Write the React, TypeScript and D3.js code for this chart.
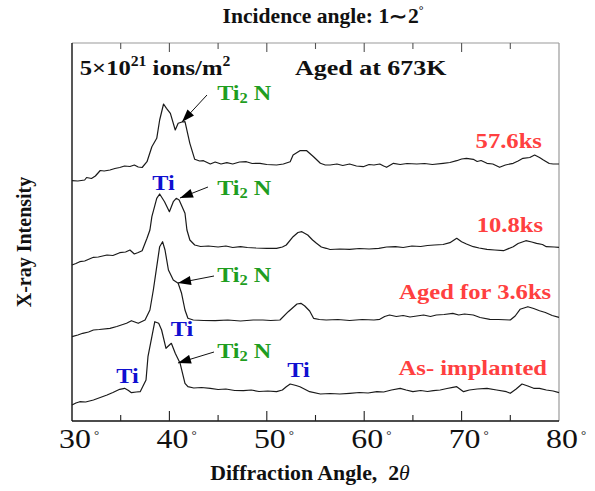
import React from "react";
import * as d3 from "d3";

const W = 595;
const H = 491;
const PLOT = { left: 72, right: 559, top: 43, bottom: 421 };

const xDomain: [number, number] = [30, 80];
const yDomain: [number, number] = [0, 378];
const xMajorTicks = [30, 40, 50, 60, 70, 80];
const innerTicks = [35, 40, 45, 50, 55, 60, 65, 70, 75];

// 57.6 ks
const angle576 = [30.0, 30.6, 31.3, 31.5, 32.0, 32.4, 32.9, 33.3, 33.9, 34.4, 34.9, 35.4, 35.95, 36.4, 36.8, 37.2, 37.7, 38.2, 38.7, 39.0, 39.4, 39.7, 40.1, 40.6, 40.9, 41.3, 41.6, 42.1, 42.6, 43.1, 43.5, 44.2, 44.7, 45.3, 45.9, 46.5, 47.2, 47.9, 48.5, 49.3, 50.0, 51.0, 51.7, 52.4, 52.7, 53.4, 54.1, 54.8, 55.5, 56.0, 56.5, 57.2, 57.8, 58.5, 59.2, 59.9, 60.5, 61.0, 61.6, 62.0, 62.3, 63.0, 63.7, 64.4, 65.4, 66.2, 67.0, 68.1, 68.8, 69.5, 70.0, 70.5, 71.2, 71.6, 72.0, 72.6, 73.2, 73.9, 74.5, 75.3, 75.8, 76.3, 77.0, 77.5, 78.0, 78.4, 79.0, 79.4, 80.0];
const int576 = [240.3, 240, 241, 243.5, 242.5, 245, 250.5, 250, 251, 252.5, 253.5, 255, 254.5, 256, 254, 253.5, 259.3, 274.3, 282.7, 301, 317, 312.7, 307.7, 291, 297.7, 299, 299.3, 277.7, 261.7, 260, 260.3, 257, 259, 257, 258.3, 257, 259, 259.3, 257.5, 257.7, 256.5, 256, 257, 259.3, 266, 270.3, 270.3, 264.3, 257.7, 256, 256, 257, 255.5, 257, 255, 254.3, 256.5, 256, 257, 255, 253.7, 257.7, 256.5, 257.5, 257, 257.5, 256.5, 257.7, 258.5, 260.3, 262, 262.7, 261.7, 259.5, 260.5, 257.7, 257, 253.7, 256, 257.7, 260, 262.7, 263.5, 266, 263.5, 261, 257.5, 257, 257];

// 10.8 ks
const angle108 = [30.0, 30.4, 30.8, 31.3, 32.2, 32.7, 33.6, 34.2, 34.9, 35.5, 35.95, 36.4, 36.8, 37.2, 37.7, 38.0, 38.2, 38.7, 39.0, 39.5, 40.0, 40.4, 40.7, 41.0, 41.6, 41.8, 42.1, 42.6, 43.2, 44.0, 45.0, 45.8, 46.5, 47.3, 48.0, 48.9, 50.0, 51.0, 51.6, 52.0, 52.7, 53.2, 53.6, 54.2, 54.7, 55.1, 55.6, 56.1, 56.5, 57.5, 58.5, 59.5, 60.5, 61.5, 62.3, 63.2, 64.0, 64.9, 65.8, 66.5, 67.2, 68.1, 68.8, 69.5, 70.0, 70.5, 71.2, 71.8, 72.6, 73.4, 74.3, 75.3, 75.8, 76.6, 77.2, 77.7, 78.3, 78.7, 79.5, 80.0];
const int108 = [156, 157.5, 159.3, 160, 163.7, 164, 166, 165.5, 168.3, 169, 171, 167, 168.5, 170.3, 182.7, 191, 204.3, 222.7, 227, 219.3, 209.3, 219.3, 222.7, 221, 207.7, 191, 181, 176, 174.5, 175, 174, 175, 173.5, 174.3, 173.5, 173, 172.7, 172.7, 174, 176, 184.3, 188.5, 189.3, 186, 181, 177.7, 174, 172.7, 171.5, 172, 171.7, 172.5, 172, 172.7, 174, 174.3, 173.5, 175, 174.5, 175.5, 176, 176.5, 178.3, 182.7, 179.3, 177, 174.3, 173, 171.7, 171, 170.3, 174.3, 177.5, 180.3, 179, 177.7, 176.5, 174.3, 174, 173.7];

// aged for 3.6 ks
const angle36 = [30.0, 30.6, 31.1, 31.7, 32.2, 32.8, 33.9, 34.6, 35.6, 36.1, 36.8, 37.5, 38.0, 38.35, 38.7, 39.0, 39.3, 39.55, 39.9, 40.4, 40.9, 41.25, 41.6, 41.9, 42.45, 43.5, 44.7, 46.0, 47.3, 48.6, 49.6, 50.4, 51.35, 52.2, 53.1, 53.5, 53.9, 54.4, 54.8, 55.4, 56.1, 57.3, 58.5, 59.8, 61.0, 61.6, 62.1, 62.6, 63.3, 64.0, 64.7, 65.4, 66.1, 66.8, 67.4, 68.2, 69.1, 69.7, 70.3, 71.2, 71.9, 72.9, 73.8, 75.0, 75.5, 76.0, 76.8, 77.4, 78.0, 78.6, 79.3, 80.0];
const int36 = [84.3, 86, 87.7, 89, 91, 91.5, 92.7, 94.5, 97.7, 100.3, 97.7, 101, 111, 131, 154.3, 174.3, 179.3, 171, 151, 141, 137.7, 127.7, 111, 102.7, 101, 100.5, 100.3, 101, 100, 101, 101, 100.5, 101, 109.3, 117, 117.7, 115, 110, 102.7, 101.5, 101, 101.5, 100.5, 101.5, 101, 101.7, 104.5, 106, 104.5, 105.5, 104, 105, 106, 104.5, 106, 106.5, 107.7, 106, 107, 106, 103.5, 101.7, 101.5, 101, 105, 111.7, 114.3, 112.5, 110.3, 108.5, 105.5, 103.7];

// as-implanted
const angle0 = [30.0, 30.4, 30.8, 31.4, 32.2, 32.9, 33.6, 34.2, 34.9, 35.4, 35.8, 36.1, 36.6, 37.0, 37.6, 37.8, 38.2, 38.5, 38.9, 39.2, 39.65, 40.0, 40.2, 40.6, 41.1, 41.6, 41.9, 42.5, 43.3, 44.2, 45.0, 45.8, 46.7, 47.6, 48.4, 49.2, 50.1, 51.0, 51.6, 52.0, 52.4, 53.0, 53.4, 54.4, 55.5, 56.5, 57.5, 58.5, 59.5, 60.4, 61.3, 62.0, 62.8, 63.7, 64.3, 65.0, 65.8, 66.5, 67.1, 67.8, 68.5, 69.1, 69.5, 70.2, 70.8, 71.6, 72.6, 73.6, 74.6, 75.0, 75.6, 76.2, 76.8, 77.4, 78.0, 78.7, 79.4, 80.0];
const int0 = [16, 18, 19.3, 19, 21, 23.5, 26, 28.5, 31.7, 32.7, 30.5, 28.3, 29, 29.3, 41, 64.3, 84.3, 99.3, 97.7, 91, 72.7, 76, 77.7, 67.7, 57.7, 37.7, 34.3, 33, 33.5, 32.7, 31.5, 32, 30.5, 30.3, 31, 29.5, 30, 29.3, 31, 34.3, 37, 35.5, 34.3, 29.3, 27, 27.5, 27, 27.7, 28.5, 28, 29.3, 29, 31, 32.7, 31, 29.3, 30.5, 29.5, 30.3, 31, 32.5, 33.7, 34.3, 29.3, 31, 32, 32.7, 31, 29.3, 27.7, 32, 37, 35, 32.7, 32.7, 31, 30, 28.3];

const seriesAngles = [angle576, angle108, angle36, angle0];
const seriesIntensity = [int576, int108, int36, int0];

// annotations (angle, intensity)
const seriesLabels = ["57.6ks", "10.8ks", "Aged for 3.6ks", "As- implanted"];
const seriesLabelPos: [number, number][] = [[78.25, 273], [78.36, 189], [79.2, 122], [78.77, 46]];
const ti2nPos: [number, number][] = [[44.9, 321], [44.9, 226], [44.9, 139], [44.9, 63]];
const arrowTail: [number, number][] = [[43.86, 326], [43.96, 234], [44.58, 145], [44.58, 69]];
const arrowTip: [number, number][] = [[41.29, 299], [41.09, 223], [40.88, 138], [40.88, 58]];
const tiPos: [number, number][] = [[39.4, 231], [41.3, 85], [35.7, 38], [53.25, 44]];

const FONT = "'Liberation Serif', 'Times New Roman', Times, serif";
const RED = "#ff4040";
const GREEN = "#1f9e1f";
const BLUE = "#1010d0";

export default function App() {
  const x = d3.scaleLinear().domain(xDomain).range([PLOT.left, PLOT.right]);
  const y = d3.scaleLinear().domain(yDomain).range([PLOT.bottom, PLOT.top]);
  const line = d3
    .line<[number, number]>()
    .x((d) => x(d[0]))
    .y((d) => y(d[1]));

  const paths = seriesAngles.map((a, i) =>
    line(a.map((t, j) => [t, seriesIntensity[i][j]] as [number, number]))
  );

  const st = (px: number, py: number, sx: number) => `translate(${px},${py}) scale(${sx},1)`;

  return (
    <div style={{ position: "fixed", left: 0, top: 0, width: W, height: H, background: "#fff" }}>
      <svg width={W} height={H} viewBox={`0 0 ${W} ${H}`} style={{ display: "block" }} fontFamily={FONT}>
        <defs>
          <marker id="arr" viewBox="0 0 13 9" refX="13" refY="4.5" markerWidth="14" markerHeight="9" markerUnits="userSpaceOnUse" orient="auto">
            <path d="M0,0 L13,4.5 L0,9 Z" fill="#000" />
          </marker>
        </defs>

        {/* title */}
        <text transform={st(323, 23, 1.08)} textAnchor="middle" fontSize={20} fontWeight="bold" fill="#111">
          Incidence angle: 1∼2<tspan fontSize={11} dy={-9}>°</tspan>
        </text>

        {/* frame */}
        <line x1={PLOT.left} x2={PLOT.right} y1={PLOT.top} y2={PLOT.top} stroke="#9a9a9a" strokeWidth={1.2} />
        <line x1={PLOT.right} x2={PLOT.right} y1={PLOT.top} y2={PLOT.bottom} stroke="#9a9a9a" strokeWidth={1.2} />
        <line x1={PLOT.left} x2={PLOT.left} y1={PLOT.top} y2={PLOT.bottom} stroke="#111" strokeWidth={1.4} />
        <line x1={PLOT.left} x2={PLOT.right} y1={PLOT.bottom} y2={PLOT.bottom} stroke="#111" strokeWidth={1.4} />

        {/* ticks */}
        {innerTicks.map((t) => {
          const major = t % 10 === 0;
          return (
            <g key={"t" + t}>
              <line x1={x(t)} x2={x(t)} y1={PLOT.bottom} y2={PLOT.bottom - (major ? 10 : 6)} stroke="#222" strokeWidth={1.1} />
              <line x1={x(t)} x2={x(t)} y1={PLOT.top} y2={PLOT.top + (major ? 9 : 6)} stroke="#555" strokeWidth={1.1} />
            </g>
          );
        })}

        {/* tick labels */}
        {xMajorTicks.map((t) => (
          <g key={"l" + t}>
            <text transform={st(x(t) + 3, 448, 1.18)} textAnchor="middle" fontSize={27} fill="#111">
              {t}
            </text>
            <text x={x(t) + 22} y={439} fontSize={13} fill="#222">
              °
            </text>
          </g>
        ))}

        {/* axis titles */}
        <text transform={st(310, 480, 1.09)} textAnchor="middle" fontSize={20} fontWeight="bold" fill="#111">
          {"Diffraction Angle,\u00a0\u00a02"}
          <tspan fontStyle="italic" fontWeight="normal">θ</tspan>
        </text>
        <text transform="translate(31,242) rotate(-90)" textAnchor="middle" fontSize={20} fontWeight="bold" fill="#111">
          X-ray Intensity
        </text>

        {/* in-plot headers */}
        <text transform={st(x(30.8), y(346), 1.12)} fontSize={22} fontWeight="bold" fill="#111">
          5×10<tspan fontSize={14} dy={-9}>21</tspan>
          <tspan dy={9}> ions/m</tspan>
          <tspan fontSize={14} dy={-9}>2</tspan>
        </text>
        <text transform={st(x(52.9), y(346), 1.18)} fontSize={22} fontWeight="bold" fill="#111">
          Aged at 673K
        </text>

        {/* curves */}
        {paths.map((p, i) => (
          <path key={"c" + i} d={p || ""} fill="none" stroke="#1a1a1a" strokeWidth={1.2} strokeLinejoin="round" />
        ))}

        {/* arrows */}
        {arrowTail.map((tl, i) => (
          <line key={"a" + i} x1={x(tl[0])} y1={y(tl[1])} x2={x(arrowTip[i][0])} y2={y(arrowTip[i][1])} stroke="#111" strokeWidth={1} markerEnd="url(#arr)" />
        ))}

        {/* Ti2N labels */}
        {ti2nPos.map((p, i) => (
          <text key={"n" + i} transform={st(x(p[0]), y(p[1]), 1.1)} fontSize={22} fontWeight="bold" fill={GREEN}>
            Ti<tspan fontSize={15} dy={3}>2</tspan>
            <tspan dy={-3}> N</tspan>
          </text>
        ))}

        {/* Ti labels */}
        {tiPos.map((p, i) => (
          <text key={"ti" + i} transform={st(x(p[0]), y(p[1]), 1.1)} textAnchor="middle" fontSize={22} fontWeight="bold" fill={BLUE}>
            Ti
          </text>
        ))}

        {/* series labels */}
        {seriesLabels.map((s, i) => (
          <text key={"s" + i} transform={st(x(seriesLabelPos[i][0]), y(seriesLabelPos[i][1]), 1.12)} textAnchor="end" fontSize={22} fontWeight="bold" fill={RED}>
            {s}
          </text>
        ))}
      </svg>
    </div>
  );
}
